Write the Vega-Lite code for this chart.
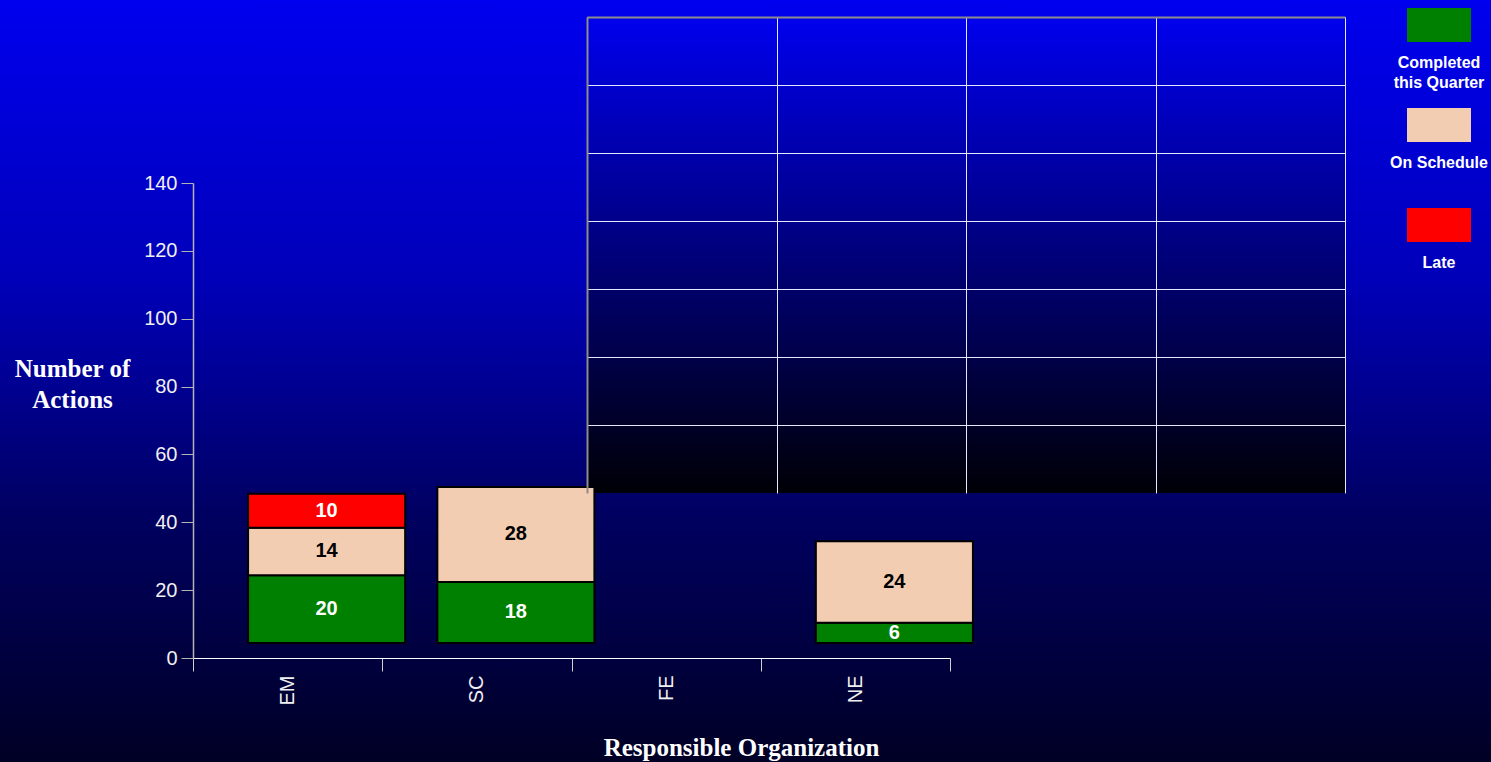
{
  "$schema": "https://vega.github.io/schema/vega-lite/v6.json",
  "width": 1491,
  "height": 762,
  "autosize": "none",
  "padding": 0,
  "background": "#000025",
  "view": {
    "stroke": null,
    "fill": {
      "gradient": "linear", "x1": 0, "y1": 0, "x2": 0, "y2": 1,
      "stops": [
        {"offset": 0, "color": "#0000EE"},
        {"offset": 0.37, "color": "#0000B8"},
        {"offset": 0.68, "color": "#000060"},
        {"offset": 1, "color": "#000025"}
      ]
    }
  },
  "data": {
    "values": [
      {"org": "EM", "status": "Completed this Quarter", "count": 20, "k": 1},
      {"org": "EM", "status": "On Schedule", "count": 14, "k": 2},
      {"org": "EM", "status": "Late", "count": 10, "k": 3},
      {"org": "SC", "status": "Completed this Quarter", "count": 18, "k": 1},
      {"org": "SC", "status": "On Schedule", "count": 28, "k": 2},
      {"org": "FE", "status": "Completed this Quarter", "count": 0, "k": 1},
      {"org": "NE", "status": "Completed this Quarter", "count": 6, "k": 1},
      {"org": "NE", "status": "On Schedule", "count": 24, "k": 2}
    ]
  },
  "layer": [
    {
      "mark": {
        "type": "rect",
        "strokeWidth": 0,
        "fill": {
          "gradient": "linear", "x1": 0, "y1": 0, "x2": 0, "y2": 1,
          "stops": [
            {"offset": 0, "color": "#0000EE"},
            {"offset": 1, "color": "#000006"}
          ]
        }
      },
      "encoding": {
        "x": {
          "field": "org", "type": "nominal",
          "scale": {"domain": ["EM", "SC", "FE", "NE"], "range": [587, 1345], "paddingInner": 0, "paddingOuter": 0},
          "axis": {
            "orient": "top", "offset": -17, "title": null, "labels": false, "ticks": false,
            "grid": true, "tickBand": "extent", "gridColor": "#E6E6FF", "gridWidth": 1,
            "domainColor": "#8C8C8C", "domainWidth": 2, "zindex": 1
          }
        },
        "y": {
          "datum": 140, "type": "quantitative",
          "scale": {"domain": [0, 140], "range": [493, 17], "nice": false},
          "axis": {
            "orient": "left", "offset": -587, "title": null, "labels": false, "ticks": false,
            "values": [20, 40, 60, 80, 100, 120, 140],
            "grid": true, "gridColor": "#E6E6FF", "gridWidth": 1,
            "domainColor": "#8C8C8C", "domainWidth": 2, "zindex": 1
          }
        },
        "y2": {"datum": 0}
      }
    },
    {
      "mark": {"type": "bar", "opacity": 0},
      "encoding": {
        "x": {
          "field": "org", "type": "nominal",
          "scale": {"domain": ["EM", "SC", "FE", "NE"], "range": [193, 950], "paddingInner": 0, "paddingOuter": 0},
          "axis": {
            "orient": "bottom", "offset": -104, "title": "Responsible Organization",
            "titleX": 741, "titleY": 97, "titleAlign": "center", "titleBaseline": "alphabetic",
            "titleFont": "Liberation Serif", "titleFontSize": 25, "titleFontWeight": "bold", "titleColor": "#FFFFFF",
            "labelAngle": -90, "labelAlign": "right", "labelBaseline": "middle",
            "labelFont": "Liberation Sans", "labelFontSize": 20, "labelColor": "#F0F0F0", "labelPadding": 4,
            "tickBand": "extent", "tickSize": 13, "tickColor": "#D0D0D0", "tickWidth": 1,
            "domainColor": "#FFFFFF", "domainWidth": 1, "grid": false
          }
        },
        "y": {
          "field": "count", "type": "quantitative",
          "scale": {"domain": [0, 140], "range": [658, 183], "nice": false},
          "axis": {
            "orient": "left", "offset": -193,
            "title": ["Number of", "Actions"],
            "titleAngle": 0, "titleX": -121, "titleY": 376, "titleAlign": "center", "titleBaseline": "alphabetic",
            "titleLineHeight": 31,
            "titleFont": "Liberation Serif", "titleFontSize": 25, "titleFontWeight": "bold", "titleColor": "#FFFFFF",
            "values": [0, 20, 40, 60, 80, 100, 120, 140],
            "labelFont": "Liberation Sans", "labelFontSize": 20, "labelColor": "#F0F0F0", "labelPadding": 4,
            "tickSize": 12, "tickColor": "#B4B4B4", "tickWidth": 1,
            "domainColor": "#B4B4B4", "domainWidth": 1.5, "grid": false
          }
        }
      }
    },
    {
      "encoding": {
        "x": {
          "field": "org", "type": "nominal",
          "scale": {"domain": ["EM", "SC", "FE", "NE"], "range": [232, 989], "paddingInner": 0.17, "paddingOuter": 0.085},
          "axis": null
        }
      },
      "layer": [
        {
          "transform": [{"filter": "datum.count > 0"}],
          "mark": {"type": "bar", "stroke": "#000000", "strokeWidth": 2},
          "encoding": {
            "y": {
              "field": "count", "type": "quantitative", "stack": "zero",
              "scale": {"domain": [0, 140], "range": [643, 168], "nice": false},
              "axis": null
            },
            "color": {
              "field": "status", "type": "nominal",
              "scale": {
                "domain": ["Completed this Quarter", "On Schedule", "Late"],
                "range": ["#008000", "#F3CDB2", "#FF0000"]
              },
              "legend": {
                "orient": "none", "legendX": 1407, "legendY": 23, "title": null,
                "symbolType": "M-1,-1.47H1V-0.41H-1Z", "symbolSize": 4096,
                "symbolStrokeWidth": 0, "symbolStrokeColor": "transparent", "symbolOpacity": 1,
                "labelAlign": "center", "labelBaseline": "top", "labelOffset": -32,
                "labelColor": "#FFFFFF", "labelFont": "Liberation Sans", "labelFontSize": 16, "labelFontWeight": "bold",
                "labelLimit": 200,
                "labelExpr": "datum.label == 'Completed this Quarter' ? ['Completed', 'this Quarter'] : datum.label",
                "rowPadding": 16, "gridAlign": "all"
              }
            },
            "order": {"field": "k", "type": "quantitative"}
          }
        },
        {
          "transform": [
            {"filter": "datum.count > 0"},
            {"stack": "count", "groupby": ["org"], "sort": [{"field": "k", "order": "ascending"}], "as": ["c0", "c1"]},
            {"calculate": "(datum.c0 + datum.c1) / 2", "as": "mid"}
          ],
          "mark": {"type": "text", "font": "Liberation Sans", "fontSize": 20, "fontWeight": "bold", "baseline": "middle", "align": "center"},
          "encoding": {
            "y": {
              "field": "mid", "type": "quantitative",
              "scale": {"domain": [0, 140], "range": [643, 168], "nice": false},
              "axis": null
            },
            "text": {"field": "count", "type": "quantitative"},
            "color": {
              "condition": {"test": "datum.status === 'On Schedule'", "value": "#000000"},
              "value": "#FFFFFF"
            }
          }
        }
      ]
    }
  ],
  "resolve": {
    "scale": {"x": "independent", "y": "independent"},
    "axis": {"x": "independent", "y": "independent"}
  },
  "config": {
    "style": {"guide-label": {"lineHeight": 20}}
  }
}
